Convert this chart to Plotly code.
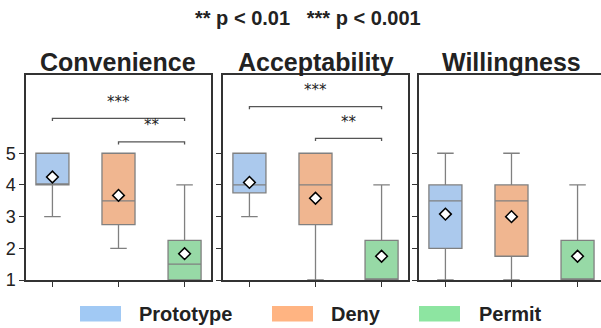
import plotly.graph_objects as go

panels = ["Convenience", "Acceptability", "Willingness"]
groups = ["Prototype", "Deny", "Permit"]
# per panel, per group: [lowerfence, q1, median, q3, upperfence]
stats = {
    "Convenience": [[3, 4, 4, 5, 5], [2, 2.75, 3.5, 5, 5], [1, 1, 1.5, 2.25, 4]],
    "Acceptability": [[3, 3.75, 4, 5, 5], [1, 2.75, 4, 5, 5], [1, 1, 1, 2.25, 4]],
    "Willingness": [[1, 2, 3.5, 4, 5], [1, 1.75, 3.5, 4, 5], [1, 1, 1, 2.25, 4]],
}
means = {
    "Convenience": [4.25, 3.67, 1.83],
    "Acceptability": [4.08, 3.58, 1.75],
    "Willingness": [3.08, 3.0, 1.75],
}
# significance brackets: (panel, from group, to group, label, bracket y, text y)
sig = [
    ("Convenience", 0, 2, "***", 6.1, 6.62),
    ("Convenience", 1, 2, "**", 5.36, 5.9),
    ("Acceptability", 0, 2, "***", 6.47, 7.0),
    ("Acceptability", 1, 2, "**", 5.47, 6.0),
]
yticks = [1, 2, 3, 4, 5]
fill_colors = ["#abc9ed", "#f0b690", "#97d9a6"]
legend_colors = ["#a1c9f4", "#ffb482", "#8de5a1"]

FONT = "Liberation Sans, Arial, sans-serif"
W, H = 601, 328
ml, mt, mb = 26, 75, 48
plot_w = W - ml
domains = [[0, 185 / plot_w], [(223 - ml) / plot_w, (408 - ml) / plot_w], [(419 - ml) / plot_w, 1.0]]
xranges = [[-0.4, 2.4], [-0.4, 2.4], [-0.4, 2.355]]


def py(ypix):
    # pixel y (from top) -> paper fraction
    return (H - mb - ypix) / (H - mt - mb)


def px(xpix):
    return (xpix - ml) / plot_w


fig = go.Figure()
for pi, p in enumerate(panels):
    xa = "x" if pi == 0 else f"x{pi+1}"
    ya = "y" if pi == 0 else f"y{pi+1}"
    for gi, g in enumerate(groups):
        lf, q1, med, q3, uf = stats[p][gi]
        fig.add_trace(go.Box(
            x=[gi], q1=[q1], median=[med], q3=[q3], lowerfence=[lf], upperfence=[uf],
            width=0.5, fillcolor=fill_colors[gi], line=dict(color="#808080", width=1.3),
            whiskerwidth=0.5, boxpoints=False, showlegend=False, xaxis=xa, yaxis=ya,
            hoverinfo="skip",
        ))
    fig.add_trace(go.Scatter(
        x=list(range(len(groups))), y=means[p], mode="markers",
        marker=dict(symbol="diamond", size=9, color="white", line=dict(color="black", width=1.5)),
        showlegend=False, xaxis=xa, yaxis=ya, hoverinfo="skip",
    ))
    key = "" if pi == 0 else str(pi + 1)
    fig.layout["xaxis" + key] = dict(
        domain=domains[pi], range=xranges[pi], anchor=ya,
        tickvals=[0, 1, 2], ticktext=["", "", ""], ticks="outside", ticklen=5,
        tickcolor="#333333", showline=True, linecolor="#333333", linewidth=1.5,
        mirror=True, showgrid=False, zeroline=False,
    )
    fig.layout["yaxis" + key] = dict(
        domain=[0, 1], range=[1, 7.47], anchor=xa,
        tickvals=yticks, ticktext=[str(v) for v in yticks] if pi == 0 else [""] * len(yticks),
        ticks="outside", ticklen=5, tickcolor="#333333",
        tickfont=dict(family=FONT, size=18, color="#222222"),
        showline=True, linecolor="#333333", linewidth=1.5, mirror=(pi < 2),
        showgrid=False, zeroline=False,
    )
    # panel title
    center = [118.5, 315.5, 511][pi]
    fig.add_annotation(
        x=px(center), y=py(62.5), xref="paper", yref="paper", showarrow=False,
        xanchor="center", yanchor="middle",
        text="<b>" + p + "</b>", font=dict(family=FONT, size=25, color="#222222"),
    )

# significance brackets
for p, a, b, lab, yb, yt in sig:
    pi = panels.index(p)
    xa = "x" if pi == 0 else f"x{pi+1}"
    ya = "y" if pi == 0 else f"y{pi+1}"
    tip = 0.08
    fig.add_shape(type="path", xref=xa, yref=ya,
                  path=f"M {a} {yb - tip} L {a} {yb} L {b} {yb} L {b} {yb - tip}",
                  line=dict(color="#555555", width=1.3))
    fig.add_annotation(x=(a + b) / 2, y=yt, xref=xa, yref=ya, showarrow=False,
                       xanchor="center", yanchor="middle",
                       text=lab, font=dict(family="DejaVu Sans, sans-serif", size=15, color="#222222"))

fig.add_annotation(x=px(308), y=py(18), xref="paper", yref="paper", showarrow=False,
                   xanchor="center", yanchor="middle",
                   text="<b>** p < 0.01   *** p < 0.001</b>",
                   font=dict(family=FONT, size=20, color="#222222"))

# legend (manual)
leg_patch_x = [80, 272, 419]
leg_text_x = [137, 329, 477]
for gi, g in enumerate(groups):
    fig.add_shape(type="rect", xref="paper", yref="paper",
                  x0=px(leg_patch_x[gi]), x1=px(leg_patch_x[gi] + 41),
                  y0=py(321.5), y1=py(306), fillcolor=legend_colors[gi],
                  line=dict(width=0))
    fig.add_annotation(x=px(leg_text_x[gi]), y=py(314), xref="paper", yref="paper",
                       xanchor="left", yanchor="middle", showarrow=False, text="<b>" + g + "</b>",
                       font=dict(family=FONT, size=20, color="#222222"))

fig.update_layout(
    width=W, height=H, margin=dict(l=ml, r=0, t=mt, b=mb, autoexpand=False),
    paper_bgcolor="white", plot_bgcolor="white", showlegend=False,
)
fig.write_html("out.html", config={"displayModeBar": False},
               post_script="document.body.style.margin='0';document.body.style.overflow='hidden';")
